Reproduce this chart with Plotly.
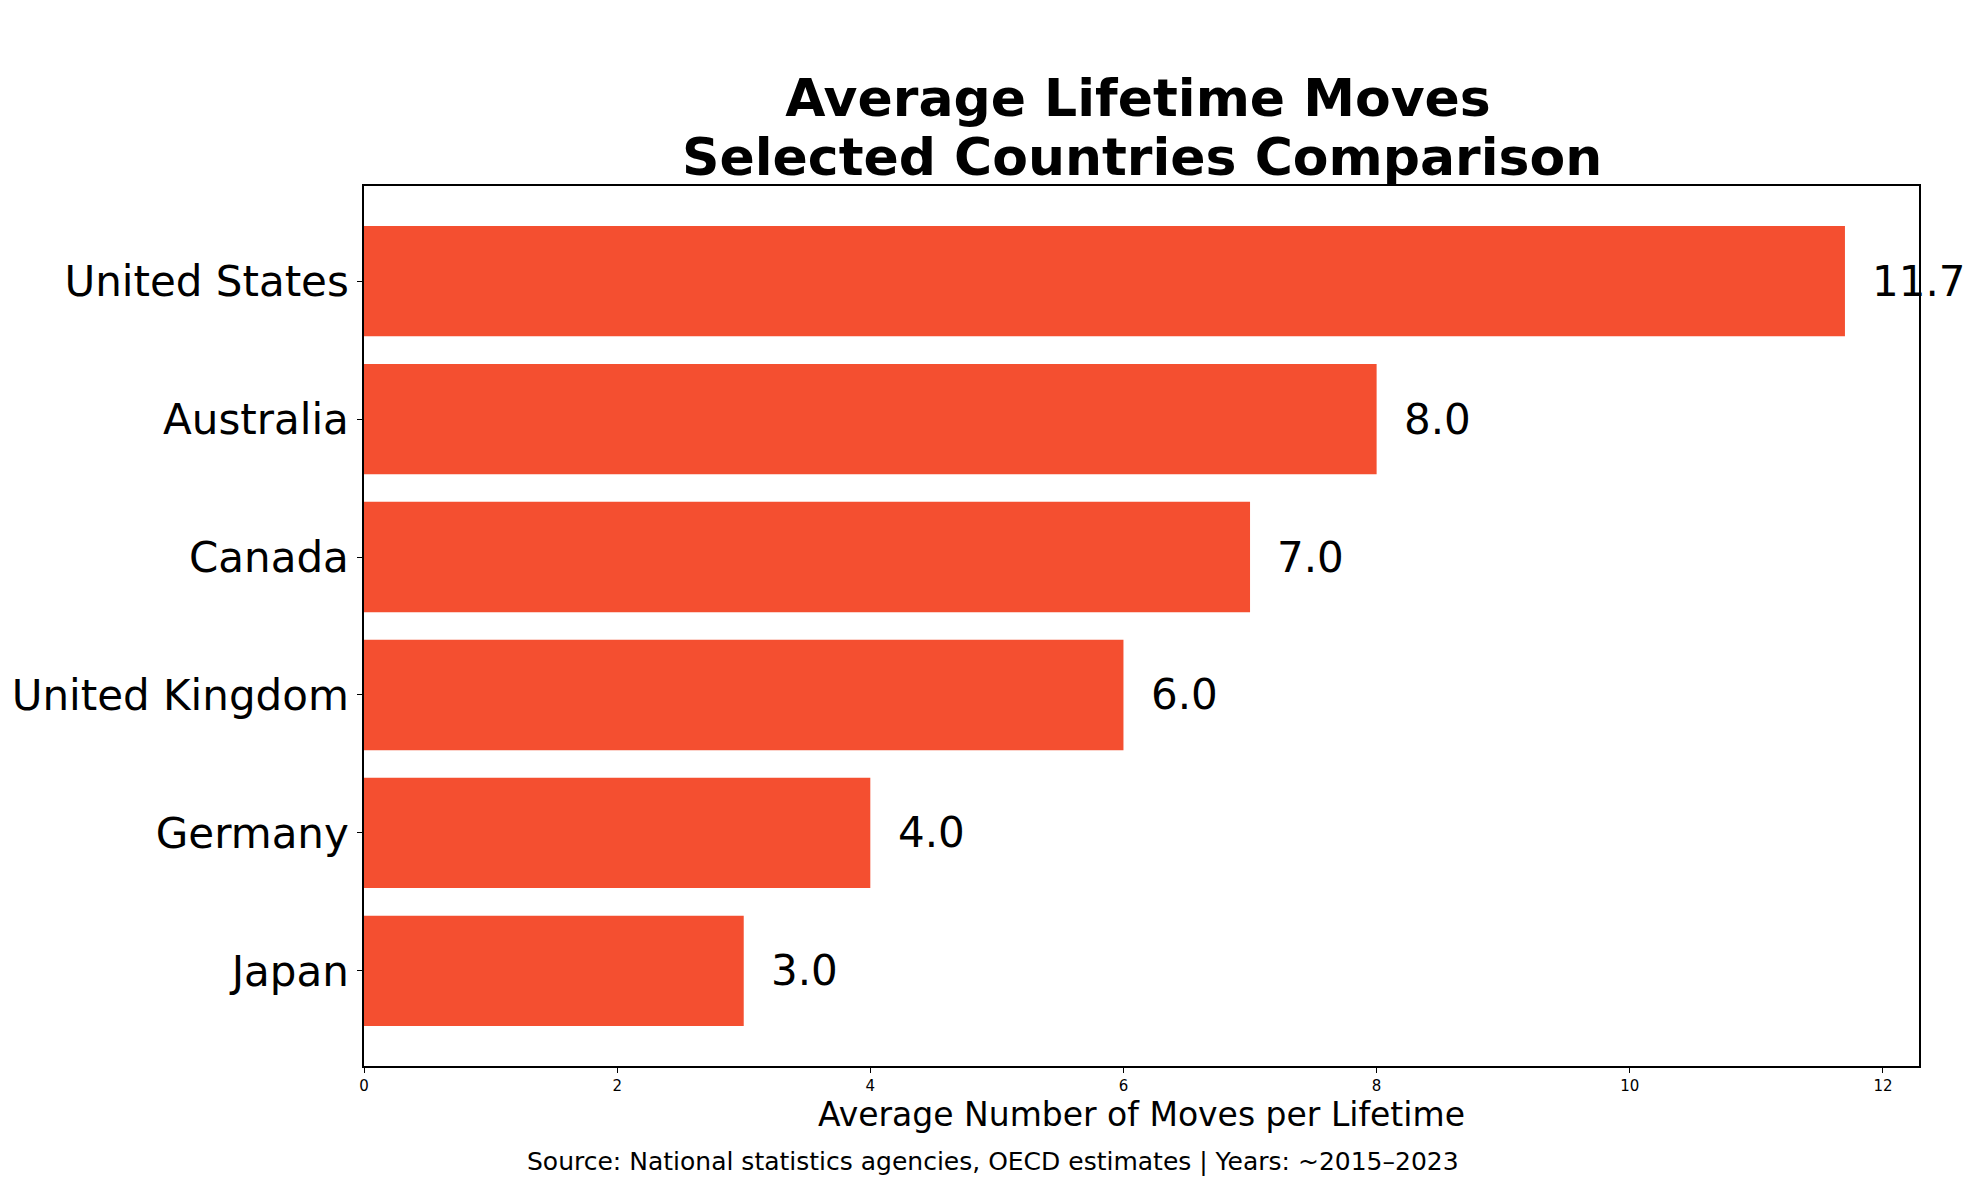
import plotly.graph_objects as go

countries = ["Japan", "Germany", "United Kingdom", "Canada", "Australia", "United States"]
moves = [3.0, 4.0, 6.0, 7.0, 8.0, 11.7]
x_ticks = [0, 2, 4, 6, 8, 10, 12]
title_line1 = "Average Lifetime Moves"
title_line2 = "Selected Countries Comparison"

FONT = "DejaVu Sans"
BAR_COLOR = "#F44F30"
W, H = 1979, 1180
L, R, T, B = 357, 60, 186, 114
PH = H - T - B

fig = go.Figure()
fig.add_trace(go.Bar(
    y=countries, x=moves, orientation="h",
    marker=dict(color=BAR_COLOR, line=dict(width=0)),
    width=0.8, hoverinfo="x+y",
))

for c, v in zip(countries, moves):
    fig.add_annotation(x=v + 0.2, y=c, xref="x", yref="y", text=f"{v:.1f}",
                       showarrow=False, xanchor="left", yanchor="middle",
                       font=dict(family=FONT, size=42, color="black"))

# second title line
fig.add_annotation(x=0.5, y=1 + (T - 157) / PH, xref="paper", yref="paper",
                   text=f"<b>{title_line2}</b>", showarrow=False,
                   xanchor="center", yanchor="middle",
                   font=dict(family=FONT, size=52, color="black"))

fig.add_annotation(x=(989 - L) / (W - L - R), y=-0.108, xref="paper", yref="paper",
                   text="Source: National statistics agencies, OECD estimates | Years: ~2015–2023",
                   showarrow=False, xanchor="center", yanchor="middle",
                   font=dict(family=FONT, size=25, color="black"))

fig.update_layout(
    width=W, height=H,
    margin=dict(l=L, r=R, t=T, b=B),
    paper_bgcolor="white", plot_bgcolor="white",
    showlegend=False,
    font=dict(family=FONT, color="black"),
    title=dict(text=f"<b>{title_line1}</b>",
               x=(L + W - R) / 2 / W, xanchor="center",
               y=1 - 98 / H, yanchor="middle", yref="container",
               font=dict(family=FONT, size=52, color="black")),
    bargap=0.2,
)
fig.update_xaxes(range=[0, 12.285], tickvals=x_ticks, ticktext=[str(t) for t in x_ticks],
                 showgrid=False, zeroline=False, showline=True, mirror=True,
                 linecolor="black", linewidth=1.5, ticks="outside", ticklen=5,
                 tickcolor="black", tickfont=dict(family=FONT, size=15),
                 title=dict(text="Average Number of Moves per Lifetime",
                            font=dict(family=FONT, size=33), standoff=4))
fig.update_yaxes(range=[-0.69, 5.69], showgrid=False, zeroline=False, showline=True,
                 mirror=True, linecolor="black", linewidth=1.5, ticks="outside",
                 ticklen=5, tickcolor="black", tickfont=dict(family=FONT, size=42))

fig.write_html("out.html", config={"displayModeBar": False},
               post_script="document.body.style.margin='0';")
